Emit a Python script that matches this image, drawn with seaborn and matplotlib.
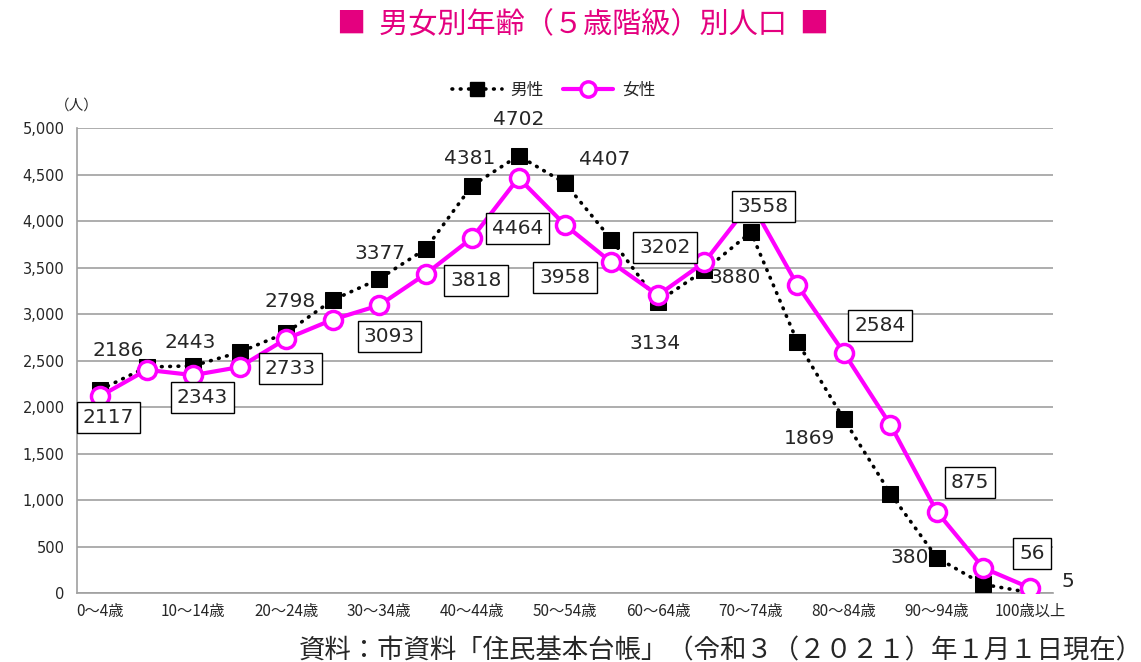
import numpy as np
import pandas as pd
import seaborn as sns
from matplotlib import pyplot as plt
from matplotlib.lines import Line2D

ages = ["0～4歳", "5～9歳", "10～14歳", "15～19歳", "20～24歳", "25～29歳", "30～34歳",
        "35～39歳", "40～44歳", "45～49歳", "50～54歳", "55～59歳", "60～64歳", "65～69歳",
        "70～74歳", "75～79歳", "80～84歳", "85～89歳", "90～94歳", "95～99歳", "100歳以上"]
male = [2186, 2430, 2443, 2590, 2798, 3150, 3377, 3700, 4381, 4702, 4407,
        3800, 3134, 3470, 3880, 2700, 1869, 1070, 380, 93, 5]
female = [2117, 2400, 2343, 2430, 2733, 2940, 3093, 3430, 3818, 4464, 3958,
          3555, 3202, 3558, 4200, 3310, 2584, 1810, 875, 270, 56]

# labels shown in the original (index, offset in pixels)
male_labels = {0: (18, 39), 2: (-3, 23), 4: (4, 31), 6: (1, 25), 8: (-2, 27), 9: (0, 36),
               10: (40, 24), 12: (-3, -42), 14: (-16, -45), 16: (-34, -19), 18: (-27, 0),
               20: (38, 11)}
female_labels = {0: (8, -21), 2: (9, -22), 4: (4, -30), 6: (10, -31), 8: (4, -43), 9: (-1, -51),
                 10: (0, -53), 12: (7, 48), 13: (59, 56), 16: (36, 27), 18: (33, 29),
                 20: (2, 34)}

MAGENTA = "#FF00FF"

sns.set_style("white")
plt.rcParams['font.family'] = ['Noto Sans CJK JP', 'DejaVu Sans']

df = pd.DataFrame({"idx": np.arange(len(ages)), "男性": male, "女性": female})

fig = plt.figure(figsize=(11.41, 6.62), dpi=100)
ax = fig.add_axes([0.0675, 0.1042, 0.9229 - 0.0675, 0.8066 - 0.1042])

sns.lineplot(data=df, x="idx", y="男性", ax=ax, color="black", linewidth=2.6,
             linestyle=(0, (0.2, 2.1)), dash_capstyle="round",
             marker="s", markersize=11, markerfacecolor="black", markeredgecolor="black",
             zorder=3)
sns.lineplot(data=df, x="idx", y="女性", ax=ax, color=MAGENTA, linewidth=3,
             marker="o", markersize=13, markerfacecolor="white", markeredgecolor=MAGENTA,
             markeredgewidth=2.5, zorder=4)

for i, (dx, dy) in male_labels.items():
    ax.annotate(str(male[i]), (i, male[i]), xytext=(dx, dy), textcoords="offset pixels",
                ha="center", va="center", fontsize=14.5, family="DejaVu Sans", zorder=6)
for i, (dx, dy) in female_labels.items():
    ax.annotate(str(female[i]), (i, female[i]), xytext=(dx, dy), textcoords="offset pixels",
                ha="center", va="center", fontsize=14.5, family="DejaVu Sans", zorder=7,
                bbox=dict(boxstyle="square,pad=0.3", fc="white", ec="black", lw=1))

ax.set_xlim(-0.5, 20.5)
ax.set_ylim(0, 5000)
ax.set_yticks(np.arange(0, 5001, 500))
ax.set_yticklabels([f"{v:,}" for v in range(0, 5001, 500)], family="DejaVu Sans", fontsize=10.5)
ax.set_xticks(np.arange(0, 21, 2))
ax.set_xticklabels(ages[::2], fontsize=11)
ax.set_xticks(np.arange(-0.5, 21, 1), minor=True)
ax.tick_params(axis="x", which="major", length=0, pad=7)
ax.tick_params(axis="x", which="minor", length=5, color="#A0A0A0", direction="out")
ax.tick_params(axis="y", length=5, color="#A0A0A0", pad=4)
ax.yaxis.grid(True, color="#A0A0A0", linewidth=1.2)
ax.set_xlabel("")
ax.set_ylabel("")
for s in ["top", "right"]:
    ax.spines[s].set_visible(False)
for s in ["left", "bottom"]:
    ax.spines[s].set_color("#A0A0A0")
    ax.spines[s].set_linewidth(1.2)

fig.text(0.067, 0.84, "（人）", fontsize=10.5, ha="center", va="center")

fig.text(0.511, 0.962, "■  男女別年齢（５歳階級）別人口  ■", color="#E4007F", fontsize=21,
         ha="center", va="center")

handles = [
    Line2D([], [], color="black", linewidth=2.6, linestyle=(0, (0.2, 2.1)), dash_capstyle="round",
           marker="s", markersize=10, markerfacecolor="black"),
    Line2D([], [], color=MAGENTA, linewidth=3, marker="o", markersize=11,
           markerfacecolor="white", markeredgecolor=MAGENTA, markeredgewidth=2.5),
]
fig.legend(handles, ["男性", "女性"], loc="center", bbox_to_anchor=(0.485, 0.864), ncol=2,
           frameon=False, fontsize=12, handlelength=3, columnspacing=1.2, handletextpad=0.5)

fig.text(0.262, 0.017, "資料：市資料「住民基本台帳」（令和３（２０２１）年１月１日現在）",
         fontsize=19, ha="left", va="center")

plt.savefig("out.png", dpi=100)
